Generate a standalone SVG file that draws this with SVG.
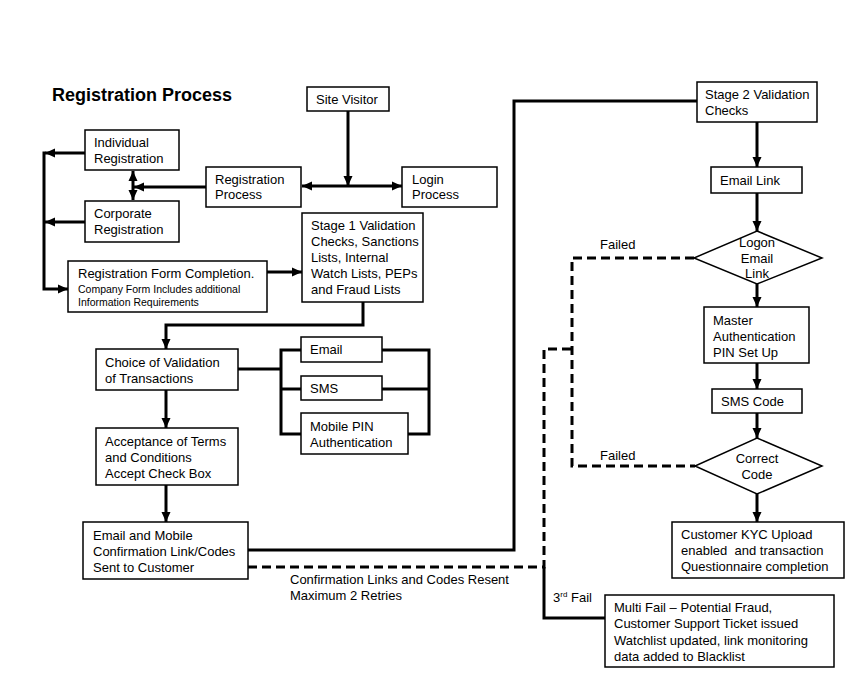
<svg xmlns="http://www.w3.org/2000/svg" width="866" height="681" viewBox="0 0 866 681">
<style>
  text { font-family: "Liberation Sans", Arial, sans-serif; font-size: 13px; fill: #000; }
  .title { font-size: 18px; font-weight: bold; }
  .small { font-size: 10.5px; }
  .box { fill: #fff; stroke: #000; stroke-width: 1.5; }
  .ln { fill: none; stroke: #000; stroke-width: 3; }
  .dash { fill: none; stroke: #000; stroke-width: 3; stroke-dasharray: 9 5; }
  .mid { text-anchor: middle; }
</style>
<defs>
  <marker id="arr" markerUnits="userSpaceOnUse" markerWidth="10" markerHeight="10" refX="10" refY="5" orient="auto-start-reverse">
    <path d="M0,0.5 L10,5 L0,9.5 z" fill="#000"/>
  </marker>
</defs>
<rect width="866" height="681" fill="#fff"/>
<text class="title" x="52" y="101">Registration Process</text>

<g id="connectors">
  <path class="ln" d="M85,153 H45" marker-end="url(#arr)"/>
  <path class="ln" d="M85,222 H45" marker-end="url(#arr)"/>
  <path class="ln" d="M44,151.5 V289 H68" marker-end="url(#arr)"/>
  <path class="ln" d="M133,171 V200" marker-start="url(#arr)" marker-end="url(#arr)"/>
  <path class="ln" d="M206,187 H134" marker-end="url(#arr)"/>
  <path class="ln" d="M348,111 V186" marker-end="url(#arr)"/>
  <path class="ln" d="M302,186 H402" marker-start="url(#arr)" marker-end="url(#arr)"/>
  <path class="ln" d="M267,272 H302" marker-end="url(#arr)"/>
  <path class="ln" d="M363,302 V325 H166 V349" marker-end="url(#arr)"/>
  <path class="ln" d="M238,369 H281"/>
  <path class="ln" d="M301,350 H281 V434 H301"/>
  <path class="ln" d="M281,389 H301"/>
  <path class="ln" d="M382,350 H429 V434 H408"/>
  <path class="ln" d="M382,389 H429"/>
  <path class="ln" d="M166,390 V428" marker-end="url(#arr)"/>
  <path class="ln" d="M166,485 V522" marker-end="url(#arr)"/>
  <path class="ln" d="M248,550 H514 V101 H697"/>
  <path class="dash" d="M248,567 H544 V349 H572"/>
  <path class="dash" d="M694,258 H572 V466 H695"/>
  <path class="ln" d="M544,567 V618 H605"/>
  <path class="ln" d="M757,122 V167" marker-end="url(#arr)"/>
  <path class="ln" d="M757,193 V231" marker-end="url(#arr)"/>
  <path class="ln" d="M757,284 V307" marker-end="url(#arr)"/>
  <path class="ln" d="M757,363 V389" marker-end="url(#arr)"/>
  <path class="ln" d="M757,413 V438" marker-end="url(#arr)"/>
  <path class="ln" d="M757,494 V522" marker-end="url(#arr)"/>
  <text x="290" y="583.5">Confirmation Links and Codes Resent</text>
  <text x="290" y="599.5">Maximum 2 Retries</text>
  <text x="600" y="248.5">Failed</text>
  <text x="600" y="459.5">Failed</text>
  <text x="553" y="601.5">3<tspan font-size="8" dy="-5">rd</tspan><tspan dy="5"> Fail</tspan></text>
</g>

<g id="site-visitor">
  <rect class="box" x="307" y="87" width="82" height="24"/>
  <text x="316" y="103.5">Site Visitor</text>
</g>
<g id="individual-registration">
  <rect class="box" x="85" y="130" width="94" height="40"/>
  <text x="94" y="146.5">Individual</text>
  <text x="94" y="162.5">Registration</text>
</g>
<g id="corporate-registration">
  <rect class="box" x="85" y="201" width="94" height="41"/>
  <text x="94" y="217.5">Corporate</text>
  <text x="94" y="233.5">Registration</text>
</g>
<g id="registration-process">
  <rect class="box" x="206" y="167" width="95" height="40"/>
  <text x="215" y="183.5">Registration</text>
  <text x="215" y="198.5">Process</text>
</g>
<g id="login-process">
  <rect class="box" x="402" y="167" width="95" height="40"/>
  <text x="412" y="183.5">Login</text>
  <text x="412" y="198.5">Process</text>
</g>
<g id="registration-form">
  <rect class="box" x="68" y="261" width="199" height="51"/>
  <text x="78" y="278">Registration Form Completion.</text>
  <text class="small" x="78" y="292.5">Company Form Includes additional</text>
  <text class="small" x="78" y="305.5">Information Requirements</text>
</g>
<g id="stage1">
  <rect class="box" x="302" y="213" width="121" height="89"/>
  <text x="311" y="229.5">Stage 1 Validation</text>
  <text x="311" y="245.5">Checks, Sanctions</text>
  <text x="311" y="261.5">Lists, Internal</text>
  <text x="311" y="277.5">Watch Lists, PEPs</text>
  <text x="311" y="293.5">and Fraud Lists</text>
</g>
<g id="choice">
  <rect class="box" x="96" y="349" width="142" height="41"/>
  <text x="105" y="366.5">Choice of Validation</text>
  <text x="105" y="382.5">of Transactions</text>
</g>
<g id="email">
  <rect class="box" x="301" y="337" width="81" height="25"/>
  <text x="310" y="353.5">Email</text>
</g>
<g id="sms">
  <rect class="box" x="301" y="376" width="81" height="24"/>
  <text x="310" y="392.5">SMS</text>
</g>
<g id="mobile-pin">
  <rect class="box" x="301" y="413" width="107" height="41"/>
  <text x="310" y="430.5">Mobile PIN</text>
  <text x="310" y="446.5">Authentication</text>
</g>
<g id="acceptance">
  <rect class="box" x="96" y="428" width="142" height="57"/>
  <text x="105" y="445.5">Acceptance of Terms</text>
  <text x="105" y="461.5">and Conditions</text>
  <text x="105" y="477.5">Accept Check Box</text>
</g>
<g id="email-mobile-confirmation">
  <rect class="box" x="83" y="522" width="165" height="57"/>
  <text x="93" y="539.5">Email and Mobile</text>
  <text x="93" y="555.5">Confirmation Link/Codes</text>
  <text x="93" y="571.5">Sent to Customer</text>
</g>
<g id="stage2">
  <rect class="box" x="697" y="82" width="120" height="40"/>
  <text x="705" y="98.5">Stage 2 Validation</text>
  <text x="705" y="114.5">Checks</text>
</g>
<g id="email-link">
  <rect class="box" x="711" y="167" width="91" height="26"/>
  <text x="720" y="184.5">Email Link</text>
</g>
<g id="logon-email-link">
  <polygon class="box" points="757,231 822,258 757,284 694,258"/>
  <text class="mid" x="757" y="246.5">Logon</text>
  <text class="mid" x="757" y="262.5">Email</text>
  <text class="mid" x="757" y="277.5">Link</text>
</g>
<g id="master-pin">
  <rect class="box" x="704" y="307" width="105" height="56"/>
  <text x="713" y="324.5">Master</text>
  <text x="713" y="340.5">Authentication</text>
  <text x="713" y="356.5">PIN Set Up</text>
</g>
<g id="sms-code">
  <rect class="box" x="712" y="389" width="90" height="24"/>
  <text x="721" y="405.5">SMS Code</text>
</g>
<g id="correct-code">
  <polygon class="box" points="757,438 822,466 757,494 695,466"/>
  <text class="mid" x="757" y="462.5">Correct</text>
  <text class="mid" x="757" y="478.5">Code</text>
</g>
<g id="kyc">
  <rect class="box" x="672" y="522" width="172" height="56"/>
  <text x="681" y="539">Customer KYC Upload</text>
  <text x="681" y="555">enabled&#160; and transaction</text>
  <text x="681" y="571">Questionnaire completion</text>
</g>
<g id="multi-fail">
  <rect class="box" x="605" y="595" width="229" height="72"/>
  <text x="614" y="611.5">Multi Fail – Potential Fraud,</text>
  <text x="614" y="628">Customer Support Ticket issued</text>
  <text x="614" y="644.5">Watchlist updated, link monitoring</text>
  <text x="614" y="660.5">data added to Blacklist</text>
</g>
</svg>
